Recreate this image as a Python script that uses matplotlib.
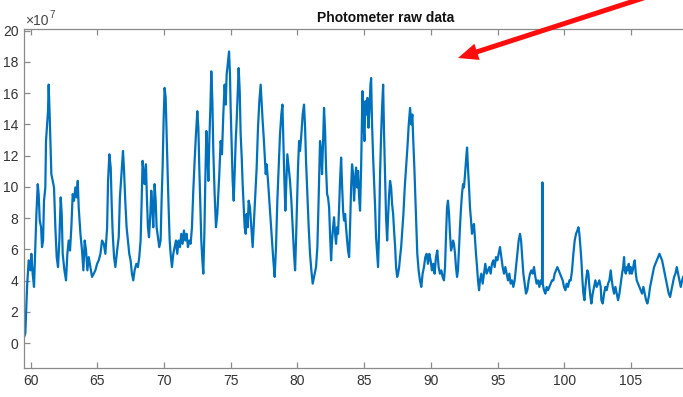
import matplotlib
matplotlib.use("Agg")
import matplotlib.pyplot as plt
from matplotlib.patches import FancyArrow
from matplotlib.transforms import IdentityTransform

plt.rcParams['font.family'] = ['Liberation Sans', 'DejaVu Sans']

# time (s) and photometer signal (x 1e7)
time_s = [
    59.47, 59.60, 59.73, 59.85, 59.98, 60.05, 60.15, 60.25, 60.35, 60.43, 60.53, 60.60,
    60.68, 60.78, 60.85, 60.93, 61.00, 61.10, 61.15, 61.23, 61.30, 61.35, 61.43, 61.50,
    61.55, 61.65, 61.75, 61.85, 61.95, 62.05, 62.15, 62.25, 62.33, 62.40, 62.53, 62.65,
    62.75, 62.85, 62.95, 63.05, 63.15, 63.25, 63.35, 63.45, 63.53, 63.60, 63.73, 63.85,
    63.95, 64.05, 64.15, 64.25, 64.35, 64.48, 64.60, 64.73, 64.85, 64.98, 65.10, 65.23,
    65.35, 65.48, 65.60, 65.73, 65.80, 65.90, 66.00, 66.08, 66.15, 66.25, 66.35, 66.48,
    66.60, 66.69, 66.84, 66.92, 66.99, 67.09, 67.19, 67.29, 67.39, 67.49, 67.59, 67.69,
    67.79, 67.92, 68.04, 68.14, 68.24, 68.32, 68.39, 68.47, 68.54, 68.64, 68.72, 68.79,
    68.87, 68.97, 69.04, 69.12, 69.19, 69.29, 69.37, 69.44, 69.54, 69.64, 69.74, 69.82,
    69.89, 69.97, 70.04, 70.12, 70.19, 70.27, 70.34, 70.42, 70.49, 70.59, 70.69, 70.79,
    70.89, 70.99, 71.09, 71.19, 71.29, 71.39, 71.49, 71.59, 71.69, 71.79, 71.89, 71.99,
    72.09, 72.19, 72.29, 72.39, 72.49, 72.57, 72.64, 72.72, 72.79, 72.87, 72.94, 73.02,
    73.09, 73.17, 73.24, 73.32, 73.39, 73.47, 73.54, 73.62, 73.69, 73.79, 73.89, 73.99,
    74.04, 74.14, 74.24, 74.34, 74.44, 74.54, 74.62, 74.69, 74.79, 74.87, 74.94, 74.99,
    75.07, 75.14, 75.22, 75.29, 75.37, 75.44, 75.52, 75.59, 75.67, 75.74, 75.82, 75.89,
    75.97, 76.04, 76.12, 76.19, 76.27, 76.34, 76.44, 76.54, 76.64, 76.74, 76.84, 76.94,
    77.04, 77.14, 77.24, 77.32, 77.39, 77.47, 77.54, 77.62, 77.69, 77.79, 77.89, 77.99,
    78.09, 78.19, 78.29, 78.39, 78.49, 78.59, 78.69, 78.79, 78.87, 78.94, 79.02, 79.09,
    79.17, 79.24, 79.34, 79.44, 79.54, 79.64, 79.74, 79.82, 79.89, 79.97, 80.04, 80.12,
    80.19, 80.29, 80.39, 80.49, 80.57, 80.64, 80.74, 80.84, 80.94, 81.04, 81.14, 81.29,
    81.39, 81.49, 81.57, 81.64, 81.69, 81.77, 81.84, 81.92, 81.99, 82.07, 82.14, 82.22,
    82.29, 82.37, 82.44, 82.52, 82.59, 82.67, 82.74, 82.82, 82.89, 82.97, 83.04, 83.12,
    83.19, 83.27, 83.34, 83.42, 83.49, 83.57, 83.64, 83.72, 83.79, 83.87, 83.94, 84.02,
    84.09, 84.17, 84.24, 84.32, 84.39, 84.47, 84.54, 84.62, 84.69, 84.77, 84.82, 84.87,
    84.94, 85.02, 85.09, 85.17, 85.24, 85.32, 85.39, 85.47, 85.52, 85.59, 85.67, 85.74,
    85.82, 85.89, 85.97, 86.04, 86.12, 86.19, 86.27, 86.34, 86.42, 86.49, 86.57, 86.64,
    86.72, 86.79, 86.87, 86.94, 87.02, 87.09, 87.17, 87.24, 87.32, 87.39, 87.47, 87.54,
    87.62, 87.69, 87.77, 87.84, 87.94, 88.04, 88.14, 88.24, 88.34, 88.44, 88.53, 88.61,
    88.68, 88.76, 88.83, 88.91, 88.98, 89.08, 89.18, 89.28, 89.38, 89.48, 89.58, 89.68,
    89.78, 89.88, 89.98, 90.08, 90.18, 90.28, 90.38, 90.48, 90.58, 90.68, 90.78, 90.88,
    90.98, 91.06, 91.13, 91.21, 91.28, 91.36, 91.43, 91.51, 91.58, 91.66, 91.73, 91.81,
    91.88, 91.96, 92.03, 92.11, 92.18, 92.26, 92.33, 92.41, 92.48, 92.56, 92.63, 92.71,
    92.78, 92.86, 92.93, 93.01, 93.08, 93.16, 93.23, 93.31, 93.38, 93.46, 93.53, 93.61,
    93.68, 93.78, 93.88, 93.98, 94.08, 94.18, 94.28, 94.38, 94.48, 94.58, 94.68, 94.78,
    94.88, 94.98, 95.08, 95.18, 95.28, 95.38, 95.48, 95.58, 95.68, 95.78, 95.88, 95.98,
    96.08, 96.18, 96.28, 96.38, 96.48, 96.58, 96.68, 96.76, 96.83, 96.93, 97.03, 97.13,
    97.23, 97.33, 97.43, 97.53, 97.63, 97.73, 97.83, 97.93, 98.03, 98.13, 98.23, 98.33,
    98.36, 98.38, 98.48, 98.58, 98.68, 98.78, 98.88, 98.98, 99.08, 99.18, 99.28, 99.38,
    99.48, 99.58, 99.68, 99.78, 99.88, 99.98, 100.08, 100.18, 100.28, 100.38, 100.48, 100.58,
    100.68, 100.78, 100.88, 100.98, 101.06, 101.13, 101.21, 101.28, 101.36, 101.43, 101.51, 101.58,
    101.66, 101.73, 101.81, 101.88, 101.96, 102.03, 102.13, 102.23, 102.33, 102.43, 102.53, 102.63,
    102.73, 102.78, 102.88, 102.98, 103.08, 103.18, 103.28, 103.38, 103.48, 103.56, 103.63, 103.73,
    103.83, 103.93, 104.03, 104.13, 104.23, 104.33, 104.41, 104.48, 104.53, 104.61, 104.68, 104.76,
    104.83, 104.91, 104.98, 105.06, 105.13, 105.21, 105.28, 105.36, 105.43, 105.53, 105.63, 105.73,
    105.83, 105.93, 106.03, 106.13, 106.23, 106.33, 106.43, 106.53, 106.63, 106.73, 106.83, 106.93,
    107.03, 107.13, 107.23, 107.33, 107.43, 107.53, 107.63, 107.73, 107.83, 107.93, 108.03, 108.13,
    108.23, 108.33, 108.43, 108.53, 108.63, 108.73, 108.83, 108.91,
]
signal_1e7 = [
    0.30, 0.62, 3.59, 5.29, 4.65, 5.71, 4.44, 3.59, 6.14, 8.26, 10.17, 9.53,
    7.84, 7.41, 6.14, 6.56, 9.11, 9.96, 12.93, 13.99, 14.84, 16.54, 14.42, 12.29,
    10.81, 10.38, 9.96, 7.41, 5.50, 4.86, 6.56, 9.32, 8.26, 5.71, 4.65, 4.01,
    5.71, 6.56, 5.92, 7.41, 9.53, 9.11, 9.96, 9.32, 10.38, 8.68, 6.99, 5.92,
    4.65, 6.56, 5.92, 4.65, 5.50, 4.86, 4.23, 4.44, 4.65, 5.07, 5.29, 5.71,
    6.56, 6.35, 5.71, 7.41, 10.38, 12.08, 11.23, 8.68, 6.99, 5.50, 4.86, 5.92,
    6.77, 9.32, 11.23, 12.29, 11.23, 9.11, 7.41, 6.56, 5.71, 5.29, 4.44, 4.01,
    4.65, 5.07, 4.86, 5.50, 6.56, 9.11, 11.66, 10.81, 10.17, 11.44, 9.11, 7.41,
    6.77, 8.26, 9.75, 8.68, 7.41, 10.17, 9.11, 7.41, 6.77, 6.14, 6.56, 9.32,
    11.23, 14.42, 16.33, 15.69, 13.36, 10.81, 8.68, 6.56, 5.71, 4.86, 5.71, 6.14,
    6.56, 5.71, 6.56, 6.14, 6.99, 6.35, 7.20, 6.56, 6.99, 6.14, 6.56, 6.35,
    7.41, 9.75, 11.66, 13.36, 14.84, 13.78, 11.23, 8.68, 6.56, 5.29, 4.44, 6.99,
    10.38, 13.57, 12.29, 10.38, 12.93, 15.05, 17.39, 15.48, 12.29, 9.53, 7.41, 8.26,
    9.11, 10.81, 12.93, 12.08, 14.63, 16.54, 15.26, 17.18, 18.03, 18.66, 17.18, 15.05,
    12.51, 10.38, 9.11, 10.81, 12.93, 14.20, 16.12, 17.60, 16.12, 13.36, 11.87, 10.17,
    8.68, 7.41, 6.99, 8.26, 7.41, 9.11, 8.68, 7.41, 6.14, 7.84, 9.53, 11.23,
    13.78, 15.48, 16.54, 15.26, 14.20, 13.14, 12.08, 10.81, 11.44, 10.38, 9.11, 7.84,
    6.56, 5.29, 4.23, 6.14, 9.11, 11.23, 13.36, 14.63, 15.26, 12.93, 10.38, 8.47,
    10.38, 12.08, 11.23, 10.38, 9.11, 7.41, 5.71, 4.65, 6.56, 9.11, 11.23, 12.93,
    12.29, 13.36, 14.63, 15.26, 13.78, 11.66, 9.53, 7.41, 5.71, 4.65, 3.80, 4.44,
    4.86, 6.14, 8.68, 11.23, 12.93, 12.29, 10.81, 12.93, 15.05, 13.57, 11.23, 9.53,
    9.32, 8.68, 6.99, 5.29, 6.56, 7.41, 8.05, 6.99, 6.35, 7.41, 6.99, 8.68,
    10.38, 11.87, 10.17, 8.47, 7.84, 8.26, 7.41, 6.56, 5.92, 5.50, 7.41, 9.96,
    11.44, 10.81, 9.11, 10.38, 11.23, 9.96, 11.02, 9.32, 8.47, 11.23, 13.78, 16.12,
    14.20, 12.93, 15.48, 14.63, 15.69, 13.78, 14.84, 16.54, 16.96, 13.99, 11.87, 10.38,
    8.68, 6.77, 5.71, 4.86, 7.41, 10.81, 13.36, 15.05, 16.54, 13.36, 10.38, 8.05,
    6.56, 8.05, 9.53, 10.38, 9.96, 8.90, 8.26, 7.20, 6.14, 4.86, 4.23, 4.44,
    4.86, 5.50, 6.14, 6.99, 8.26, 9.96, 11.23, 12.51, 13.99, 15.05, 13.99, 14.63,
    12.93, 11.23, 9.53, 7.41, 5.71, 4.65, 4.01, 3.59, 4.44, 4.86, 5.50, 5.71,
    5.07, 5.71, 5.29, 4.65, 5.07, 4.44, 5.50, 5.92, 4.86, 4.44, 4.65, 4.23,
    4.01, 4.86, 6.77, 8.68, 9.11, 8.26, 6.99, 5.92, 6.14, 6.56, 6.35, 5.71,
    4.86, 4.23, 4.65, 6.14, 7.41, 8.68, 9.53, 10.17, 9.96, 10.81, 11.66, 12.51,
    11.23, 9.96, 8.68, 7.84, 6.99, 7.41, 7.62, 6.56, 5.71, 4.86, 4.01, 3.38,
    4.01, 4.44, 3.80, 4.44, 5.07, 4.44, 4.65, 4.86, 4.44, 5.07, 5.29, 4.86,
    5.50, 5.29, 5.71, 6.14, 5.50, 4.86, 4.44, 4.86, 4.44, 4.01, 4.44, 3.80,
    4.01, 3.59, 4.01, 4.86, 5.71, 6.56, 6.99, 6.56, 5.71, 4.44, 3.80, 3.16,
    3.38, 4.01, 4.44, 4.65, 4.44, 4.86, 4.23, 3.80, 4.01, 3.59, 4.01, 3.80,
    10.28, 3.80, 3.38, 3.16, 3.59, 3.38, 3.59, 3.80, 4.01, 4.01, 4.44, 4.65,
    4.86, 4.65, 4.44, 4.23, 4.01, 3.59, 3.38, 3.80, 3.59, 4.01, 4.01, 4.65,
    5.71, 6.56, 6.99, 7.20, 7.41, 6.99, 6.14, 5.29, 4.01, 3.16, 2.74, 3.59,
    4.23, 4.65, 4.44, 3.59, 2.95, 2.53, 3.16, 3.59, 4.01, 3.59, 3.80, 4.01,
    3.59, 2.74, 2.53, 3.16, 3.59, 3.38, 3.80, 4.01, 4.65, 4.01, 3.59, 3.16,
    3.59, 3.16, 2.74, 3.16, 3.80, 4.44, 4.86, 5.50, 4.65, 4.44, 4.86, 4.65,
    5.07, 4.44, 4.86, 4.44, 4.65, 5.07, 5.29, 4.44, 4.01, 3.80, 3.59, 3.38,
    3.16, 3.59, 3.16, 2.74, 2.53, 2.95, 3.59, 4.01, 4.44, 4.86, 5.07, 5.29,
    5.50, 5.71, 5.50, 5.29, 4.86, 4.44, 4.01, 3.59, 3.16, 2.95, 3.38, 3.80,
    4.23, 4.44, 4.86, 4.44, 4.01, 3.59, 4.01, 4.23,
]

x_ticks = [60, 65, 70, 75, 80, 85, 90, 95, 100, 105]
y_ticks = [0, 2, 4, 6, 8, 10, 12, 14, 16, 18, 20]
title_text = "Photometer raw data"

W, H = 683, 397
fig = plt.figure(figsize=(W / 100, H / 100), dpi=100)
# axes extend beyond the right edge (reference is a cropped screenshot)
ax = fig.add_axes([24 / W, 29 / H, 724 / W, 339 / H])
ax.plot(time_s, signal_1e7, color='#0072BD', lw=1.6, solid_joinstyle='round')
ax.set_xlim(59.5, 113.77)
ax.set_ylim(-1.6, 20.1)
ax.set_xticks(x_ticks)
ax.set_yticks(y_ticks)
spine_c = '#8a8a8a'
for s in ax.spines.values():
    s.set_color(spine_c)
    s.set_linewidth(0.9)
ax.tick_params(direction='in', length=4, width=0.9, color=spine_c,
               labelsize=10, labelcolor='#333333', top=True, right=True, pad=4)
ax.set_title(title_text, fontsize=10, fontweight='bold', color='#111111', pad=5)

fig.text(25 / W, 1 - 25 / H, '\u00d710', fontsize=10, color='#444444', va='baseline')
fig.text(49 / W, 1 - 18 / H, '7', fontsize=7, color='#444444', va='baseline')

arrow = FancyArrow(705, H + 22, -247, -80, width=5, head_width=17, head_length=20,
                   length_includes_head=True, color='#ff0d0d', lw=0,
                   transform=IdentityTransform())
fig.add_artist(arrow)

fig.savefig('out.png', dpi=100)
